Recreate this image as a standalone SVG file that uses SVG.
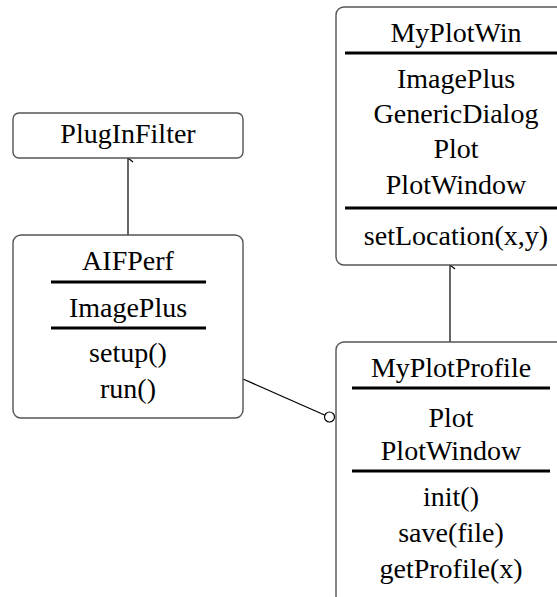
<svg xmlns="http://www.w3.org/2000/svg" width="557" height="597" viewBox="0 0 557 597">
<defs>
<marker id="arr" markerWidth="12" markerHeight="12" refX="6" refY="1" orient="auto-start-reverse" markerUnits="userSpaceOnUse" viewBox="0 0 12 12">
<path d="M2,6 L6,1 L10,6" fill="none" stroke="#000" stroke-width="1.2"/>
</marker>
</defs>
<rect width="557" height="597" fill="#fff"/>
<g id="connectors" stroke="#000" stroke-width="1.2" fill="none">
<line x1="128" y1="235" x2="128" y2="158" marker-end="url(#arr)"/>
<line x1="450" y1="342" x2="450" y2="265" marker-end="url(#arr)"/>
<line x1="243" y1="379" x2="324.5" y2="415"/>
<circle cx="329.5" cy="417" r="5" fill="#fff"/>
</g>
<g id="PlugInFilter">
<rect x="13" y="113" width="230" height="45" rx="6" fill="#fff" stroke="#555" stroke-width="1.4"/>
<text font-family="Liberation Serif" font-size="28" text-anchor="middle" x="128" y="143">PlugInFilter</text>
</g>
<g id="AIFPerf">
<rect x="13" y="235" width="230" height="183" rx="8" fill="#fff" stroke="#555" stroke-width="1.4"/>
<g stroke="#000" stroke-width="3">
<line x1="51" y1="282" x2="206" y2="282"/>
<line x1="51" y1="328" x2="206" y2="328"/>
</g>
<text font-family="Liberation Serif" font-size="28" text-anchor="middle" x="128" y="270">AIFPerf</text>
<text font-family="Liberation Serif" font-size="28" text-anchor="middle" x="128" y="317">ImagePlus</text>
<text font-family="Liberation Serif" font-size="28" text-anchor="middle" x="128" y="362">setup()</text>
<text font-family="Liberation Serif" font-size="28" text-anchor="middle" x="128" y="398">run()</text>
</g>
<g id="MyPlotWin">
<rect x="336" y="7" width="240" height="258" rx="8" fill="#fff" stroke="#555" stroke-width="1.4"/>
<g stroke="#000" stroke-width="3">
<line x1="345" y1="53" x2="567" y2="53"/>
<line x1="345" y1="208" x2="567" y2="208"/>
</g>
<text font-family="Liberation Serif" font-size="28" text-anchor="middle" x="456" y="42">MyPlotWin</text>
<text font-family="Liberation Serif" font-size="28" text-anchor="middle" x="456" y="88">ImagePlus</text>
<text font-family="Liberation Serif" font-size="28" text-anchor="middle" x="456" y="123">GenericDialog</text>
<text font-family="Liberation Serif" font-size="28" text-anchor="middle" x="456" y="158">Plot</text>
<text font-family="Liberation Serif" font-size="28" text-anchor="middle" x="456" y="194">PlotWindow</text>
<text font-family="Liberation Serif" font-size="28" text-anchor="middle" x="456" y="245">setLocation(x,y)</text>
</g>
<g id="MyPlotProfile">
<rect x="336" y="342" width="232" height="262" rx="8" fill="#fff" stroke="#555" stroke-width="1.4"/>
<g stroke="#000" stroke-width="3">
<line x1="352" y1="388" x2="550" y2="388"/>
<line x1="352" y1="471" x2="550" y2="471"/>
</g>
<text font-family="Liberation Serif" font-size="28" text-anchor="middle" x="451" y="377">MyPlotProfile</text>
<text font-family="Liberation Serif" font-size="28" text-anchor="middle" x="451" y="427">Plot</text>
<text font-family="Liberation Serif" font-size="28" text-anchor="middle" x="451" y="460">PlotWindow</text>
<text font-family="Liberation Serif" font-size="28" text-anchor="middle" x="451" y="506">init()</text>
<text font-family="Liberation Serif" font-size="28" text-anchor="middle" x="451" y="542">save(file)</text>
<text font-family="Liberation Serif" font-size="28" text-anchor="middle" x="451" y="578">getProfile(x)</text>
</g>
</svg>
